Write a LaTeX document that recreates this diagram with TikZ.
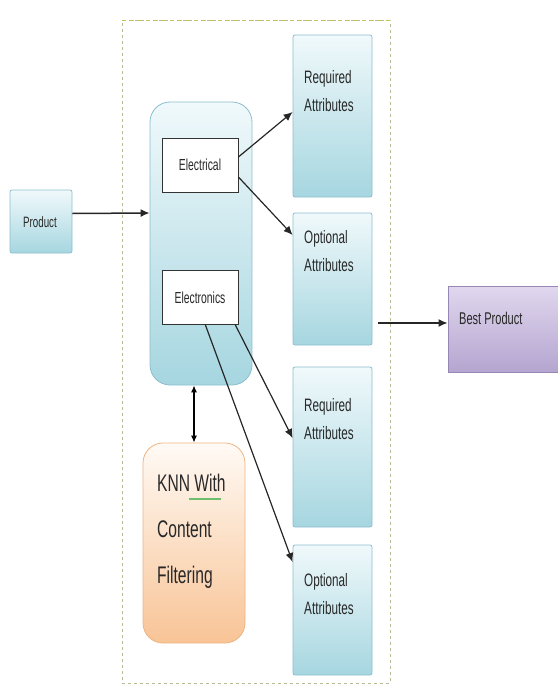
\documentclass[tikz,border=0pt]{standalone}
\usepackage{fontspec}
\setmainfont{Liberation Sans}[FakeStretch=0.65]
\usetikzlibrary{arrows.meta,calc}
\definecolor{bluetop}{RGB}{240,249,251}
\definecolor{bluebot}{RGB}{166,214,224}
\definecolor{blueedge}{RGB}{140,190,205}
\definecolor{peachtop}{RGB}{255,250,245}
\definecolor{peachbot}{RGB}{248,196,150}
\definecolor{peachedge}{RGB}{238,180,130}
\definecolor{purptop}{RGB}{225,215,238}
\definecolor{purpbot}{RGB}{180,165,208}
\definecolor{purpedge}{RGB}{150,135,180}
\definecolor{framecol}{RGB}{185,185,150}
\definecolor{frametop}{RGB}{190,195,90}
\definecolor{textcol}{RGB}{40,40,40}
\definecolor{squiggle}{RGB}{110,190,110}
\tikzset{
  attrbox/.style={draw=blueedge, line width=0.8pt, top color=bluetop, bottom color=bluebot, rounded corners=2pt, minimum width=79pt, inner sep=0pt},
  bigbox/.style={draw=blueedge, line width=0.8pt, top color=bluetop, bottom color=bluebot, rounded corners=20pt, minimum width=102pt, minimum height=283pt, inner sep=0pt},
  knnbox/.style={draw=peachedge, line width=0.8pt, top color=peachtop, bottom color=peachbot, rounded corners=20pt, minimum width=102pt, minimum height=200pt, inner sep=0pt},
  catbox/.style={draw=black!80, line width=0.8pt, fill=white, minimum width=76pt, minimum height=54pt, inner sep=0pt, font=\fontsize{16}{18}\selectfont, text=textcol},
  attrtext/.style={anchor=west, align=left, font=\fontsize{18}{28}\selectfont, text=textcol, inner sep=0pt},
  conn/.style={-{Latex[length=9pt,width=8pt]}, line width=1.2pt, draw=black!85},
}
\begin{document}
\begin{tikzpicture}[x=1pt,y=-1pt]
\useasboundingbox (0,0) rectangle (557,685);
% frame
\node[draw=framecol, dashed, line width=1pt, minimum width=268pt, minimum height=662pt, inner sep=0pt] (frame) at (256,352) {};
\draw[draw=frametop, dash pattern=on 4pt off 4pt, line width=1.4pt] (frame.north west) -- (frame.north east);
% product
\node[attrbox, minimum width=62pt, minimum height=63pt] (prod) at (41,221.5) {};
\node[anchor=center, font=\fontsize{15}{17}\selectfont, text=textcol, inner sep=0pt] (prodt) at (40,222) {Product};
% big box and categories
\node[bigbox] (big) at (201,243.5) {};
\node[catbox] (elc) at (200,165) {Electrical};
\node[catbox] (elo) at (200,297.5) {Electronics};
% knn box
\node[knnbox] (knn) at (194,543) {};
\node[anchor=west, align=left, font=\fontsize{24}{46}\selectfont, text=textcol, inner sep=0pt] (knnt) at (157,531) {KNN With\\Content\\Filtering};
\draw[draw=squiggle, line width=1.2pt] (189,499) -- (221,499);
% attribute boxes
\node[attrbox, minimum height=162pt] (r1) at (332.5,116) {};
\node[attrtext] (r1t) at (304,91) {Required\\Attributes};
\node[attrbox, minimum height=132pt] (o1) at (332.5,279) {};
\node[attrtext] (o1t) at (304,251) {Optional\\Attributes};
\node[attrbox, minimum height=160pt] (r2) at (332.5,447) {};
\node[attrtext] (r2t) at (304,419) {Required\\Attributes};
\node[attrbox, minimum height=130pt] (o2) at (332.5,610) {};
\node[attrtext] (o2t) at (304,594) {Optional\\Attributes};
% best product
\node[draw=purpedge, line width=0.8pt, top color=purptop, bottom color=purpbot, minimum width=112pt, minimum height=86pt, inner sep=0pt] (best) at (504,329) {};
\node[anchor=west, font=\fontsize{17}{19}\selectfont, text=textcol, inner sep=0pt] (bestt) at (459,318) {Best Product};
% connectors
\draw[conn, line width=1.5pt] ([yshift=8pt]prod.east) -- ([yshift=30.5pt]big.west);
\draw[conn] ([yshift=8pt]elc.east) -- ([yshift=4pt]r1.west);
\draw[conn] ([yshift=-12pt]elc.east) -- ([yshift=44pt]o1.west);
\draw[conn] ($(elo.south west)!0.96!(elo.south east)$) -- ([yshift=9pt]r2.west);
\draw[conn] ($(elo.south west)!0.57!(elo.south east)$) -- ([yshift=48pt]o2.west);
\coordinate (bstart) at (378,323);
\draw[conn, line width=1.5pt] (bstart) -- ([yshift=6pt]best.west);
\draw[{Latex[length=7pt,width=6pt]}-{Latex[length=7pt,width=6pt]}, line width=1.2pt] (knn.north |- big.south) -- (knn.north);
\end{tikzpicture}
\end{document}
